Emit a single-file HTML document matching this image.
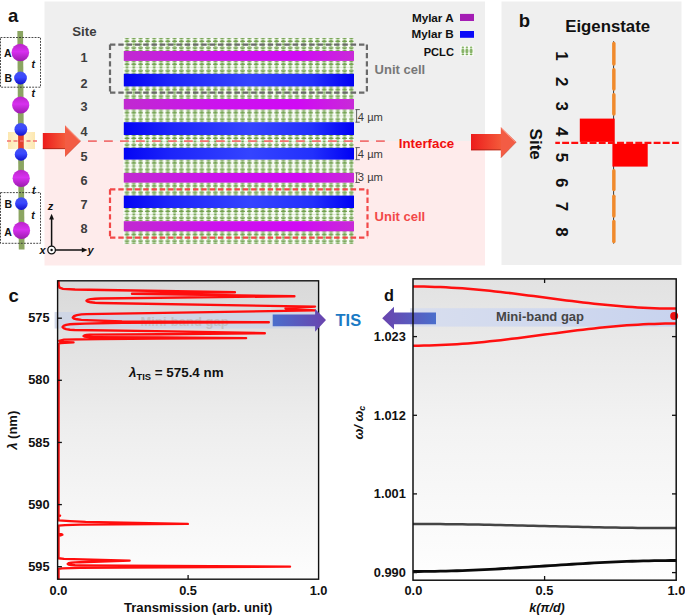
<!DOCTYPE html>
<html><head><meta charset="utf-8">
<style>
html,body{margin:0;padding:0;background:#fff;width:685px;height:615px;overflow:hidden}
svg{display:block;font-family:"Liberation Sans",sans-serif}
text{font-family:"Liberation Sans",sans-serif}
.b{font-weight:bold}
</style></head><body>
<svg width="685" height="615" viewBox="0 0 685 615">
<defs>
<linearGradient id="gA2" x1="0" y1="0" x2="0" y2="1">
<stop offset="0" stop-color="#b926c8"/><stop offset="0.45" stop-color="#d830f0"/><stop offset="1" stop-color="#9a1cac"/>
</linearGradient>
<linearGradient id="gB2" x1="0" y1="0" x2="0" y2="1">
<stop offset="0" stop-color="#4452ee"/><stop offset="0.45" stop-color="#3a48ff"/><stop offset="1" stop-color="#1212cc"/>
</linearGradient>
<linearGradient id="gArrow" x1="0" y1="0" x2="1" y2="0">
<stop offset="0" stop-color="#ec1c1c"/><stop offset="1" stop-color="#f45a3a"/>
</linearGradient>
<linearGradient id="gMag" x1="0" y1="0" x2="1" y2="0">
<stop offset="0" stop-color="#c02ad0"/><stop offset="0.4" stop-color="#cc12ee"/><stop offset="0.75" stop-color="#d00af4"/><stop offset="1" stop-color="#c82ad8"/>
</linearGradient>
<linearGradient id="gBlu" x1="0" y1="0" x2="1" y2="0">
<stop offset="0" stop-color="#0404f4"/><stop offset="0.2" stop-color="#1c24fa"/><stop offset="0.55" stop-color="#3444ff"/><stop offset="0.82" stop-color="#2230fc"/><stop offset="1" stop-color="#0000f4"/>
</linearGradient>
<linearGradient id="gYel" x1="0" y1="0" x2="1" y2="0">
<stop offset="0" stop-color="#fce7b0"/><stop offset="0.5" stop-color="#fff6d8"/><stop offset="1" stop-color="#fce7b0"/>
</linearGradient>
<pattern id="pclc" x="123.6" y="0" width="6.8" height="13" patternUnits="userSpaceOnUse">
<rect width="6.8" height="13" fill="#fbfdf9"/>
<ellipse cx="3.4" cy="0.8" rx="2.3" ry="0.7" fill="#70a04c"/>
<path d="M0.8,3.9 A2.6,1.9 0 0 1 6.0,3.9 Z" fill="#70a04c"/>
<ellipse cx="3.4" cy="4.9" rx="1.8" ry="0.7" fill="#86b268"/>
<rect x="0" y="6.3" width="6.8" height="0.4" fill="#b4d09e"/>
<ellipse cx="3.4" cy="6.5" rx="1.3" ry="0.8" fill="#70a04c"/>
<ellipse cx="3.4" cy="8.1" rx="1.8" ry="0.7" fill="#86b268"/>
<path d="M0.8,9.2 A2.6,1.9 0 0 0 6.0,9.2 Z" fill="#70a04c"/>
<ellipse cx="3.4" cy="12.2" rx="2.3" ry="0.7" fill="#70a04c"/>
</pattern>
<linearGradient id="gC" x1="0" y1="0" x2="0" y2="1">
<stop offset="0" stop-color="#d9d9d9"/><stop offset="0.5" stop-color="#eeeeee"/><stop offset="1" stop-color="#fdfdfd"/>
</linearGradient>
<linearGradient id="gD" x1="0" y1="0" x2="0" y2="1">
<stop offset="0" stop-color="#e2e2e2"/><stop offset="0.5" stop-color="#f3f3f3"/><stop offset="1" stop-color="#fefefe"/>
</linearGradient>
<linearGradient id="gTisR" x1="0" y1="0" x2="1" y2="0">
<stop offset="0" stop-color="#4a6ecc"/><stop offset="1" stop-color="#6a44ae"/>
</linearGradient>
<linearGradient id="gTisL" x1="0" y1="0" x2="1" y2="0">
<stop offset="0" stop-color="#6a44ae"/><stop offset="1" stop-color="#4a6ecc"/>
</linearGradient>
<linearGradient id="gBand" x1="0" y1="0" x2="1" y2="0">
<stop offset="0" stop-color="#d8deee"/><stop offset="1" stop-color="#c8d3ee"/>
</linearGradient>
</defs>

<!-- PANEL BACKGROUNDS -->
<rect x="44.5" y="1.5" width="440.5" height="139.5" fill="#efefef"/>
<rect x="44.5" y="141" width="440.5" height="124.5" fill="#feebeb"/>
<rect x="501.5" y="1.5" width="180" height="263.5" fill="#efefef"/>

<!-- PANEL A: chain -->
<g id="chain">
<path d="M17.35,31 L23.05,31 L24.5,249.6 L18.8,249.6 Z" fill="#8ba562"/>
<rect x="8" y="132" width="27" height="17" fill="url(#gYel)"/>
<path d="M18.1,132 L23.7,132 L23.8,149 L18.2,149 Z" fill="#e2412e"/>
<line x1="7" y1="141" x2="37" y2="141" stroke="#f27070" stroke-width="1.6" stroke-dasharray="4,2.5"/>
<rect x="0.5" y="37.5" width="40" height="49.7" fill="none" stroke="#333" stroke-width="0.9" stroke-dasharray="1.9,1.2"/>
<rect x="0.5" y="192.6" width="40" height="50.7" fill="none" stroke="#333" stroke-width="0.9" stroke-dasharray="1.9,1.2"/>
<circle cx="20.34" cy="52.5" r="8.8" fill="url(#gA2)"/>
<circle cx="20.51" cy="78" r="6.4" fill="url(#gB2)"/>
<circle cx="20.69" cy="105" r="8.6" fill="url(#gA2)"/>
<circle cx="20.85" cy="129.4" r="6.4" fill="url(#gB2)"/>
<circle cx="21.02" cy="154.4" r="6.3" fill="url(#gB2)"/>
<circle cx="21.18" cy="178.3" r="8.6" fill="url(#gA2)"/>
<circle cx="21.35" cy="203.6" r="6.3" fill="url(#gB2)"/>
<circle cx="21.52" cy="230.4" r="8.6" fill="url(#gA2)"/>
<g class="b" font-size="10.5" fill="#111">
<text x="3.9" y="56.8">A</text>
<text x="4.5" y="81.5">B</text>
<text x="4.4" y="208">B</text>
<text x="4.3" y="235.6">A</text>
</g>
<g font-size="10.5" font-style="italic" font-weight="bold" fill="#111">
<text x="31.6" y="67.7">t</text>
<text x="31.6" y="97.3">t</text>
<text x="31.9" y="194.3">t</text>
<text x="31.2" y="219.4">t</text>
</g>
<line x1="51.6" y1="246" x2="51.6" y2="218" stroke="#111" stroke-width="1.5"/>
<path d="M51.6,213.8 L49.2,219.5 L54,219.5 Z" fill="#111"/>
<line x1="55.6" y1="250" x2="83" y2="250" stroke="#111" stroke-width="1.5"/>
<path d="M87.6,250 L81.8,247.6 L81.8,252.4 Z" fill="#111"/>
<circle cx="51.6" cy="250" r="3.8" fill="#fff" stroke="#111" stroke-width="1.3"/>
<circle cx="51.6" cy="250" r="1.2" fill="#111"/>
<g font-size="11" font-style="italic" font-weight="bold" fill="#111">
<text x="47.8" y="210.3">z</text>
<text x="39.4" y="253.8">x</text>
<text x="87.6" y="253.8">y</text>
</g>
</g>

<!-- PANEL A: layers -->
<g id="layers">
<g transform="translate(0,38)"><rect x="123.2" y="0" width="230.5" height="13.0" fill="url(#pclc)"/></g>
<g transform="translate(0,60.9)"><rect x="123.2" y="0" width="230.5" height="12.9" fill="url(#pclc)"/></g>
<g transform="translate(0,86.4)"><rect x="123.2" y="0" width="230.5" height="12.6" fill="url(#pclc)"/></g>
<g transform="translate(0,109.4)"><rect x="123.2" y="0" width="230.5" height="12.8" fill="url(#pclc)"/></g>
<g transform="translate(0,135)"><rect x="123.2" y="0" width="230.5" height="12.8" fill="url(#pclc)"/></g>
<g transform="translate(0,159.6)"><rect x="123.2" y="0" width="230.5" height="13.3" fill="url(#pclc)"/></g>
<g transform="translate(0,182.6)"><rect x="123.2" y="0" width="230.5" height="13.0" fill="url(#pclc)"/></g>
<g transform="translate(0,208)"><rect x="123.2" y="0" width="230.5" height="13.2" fill="url(#pclc)"/></g>
<g transform="translate(0,231.3)"><rect x="123.2" y="0" width="230.5" height="12.7" fill="url(#pclc)"/></g>
<rect x="123.8" y="51" width="230.2" height="9.9" fill="url(#gMag)"/>
<rect x="123.8" y="73.8" width="230.2" height="12.6" fill="url(#gBlu)"/>
<rect x="123.8" y="99" width="230.2" height="10.4" fill="url(#gMag)"/>
<rect x="123.8" y="122.2" width="230.2" height="12.8" fill="url(#gBlu)"/>
<rect x="123.8" y="147.8" width="230.2" height="11.8" fill="url(#gBlu)"/>
<rect x="123.8" y="172.9" width="230.2" height="9.7" fill="url(#gMag)"/>
<rect x="123.8" y="195.6" width="230.2" height="12.4" fill="url(#gBlu)"/>
<rect x="123.8" y="221.2" width="230.2" height="10.1" fill="url(#gMag)"/>
<path d="M110,44.6 H366.9 M110,44.6 V92.6 M110,92.6 H366.9 M366.9,44.6 V92.6" fill="none" stroke="#6a6a6a" stroke-width="2.2" stroke-dasharray="5.4,2.9"/>
<path d="M110,189.3 H367.5 M110,189.3 V237.6 M110,237.6 H367.5 M367.5,189.3 V237.6" fill="none" stroke="#f24848" stroke-width="2.2" stroke-dasharray="5.4,2.9"/>
<line x1="88" y1="141.2" x2="386" y2="141.2" stroke="#f27272" stroke-width="1.8" stroke-dasharray="8.8,7.2"/>
<g class="b" font-size="12.7" fill="#3d3d3d" text-anchor="middle">
<text x="84.4" y="35.8" font-size="13.2">Site</text>
<text x="84" y="62.4">1</text>
<text x="84" y="88">2</text>
<text x="84" y="111.1">3</text>
<text x="84" y="136.3">4</text>
<text x="84" y="161.4">5</text>
<text x="84" y="184.7">6</text>
<text x="84" y="208.7">7</text>
<text x="84" y="233">8</text>
</g>
<g stroke="#3a3a3a" stroke-width="0.8" fill="none">
<path d="M355.4,109.6 H359.8 M356.6,109.6 V122.2 M355.4,122.2 H359.8"/>
<path d="M355.4,147.6 H359.8 M356.6,147.6 V159.7 M355.4,159.7 H359.8"/>
<path d="M355.4,172.8 H359.8 M356.6,172.8 V182.5 M355.4,182.5 H359.8"/>
</g>
<g font-size="11.2" fill="#3a3a3a">
<text x="357.8" y="120.9">4 µm</text>
<text x="357.8" y="158.3">4 µm</text>
<text x="357.8" y="181.3">3 µm</text>
</g>
<text x="374.6" y="74.1" class="b" font-size="13" fill="#777">Unit cell</text>
<text x="374.6" y="221.4" class="b" font-size="13" fill="#f24848">Unit cell</text>
<text x="398.8" y="147.9" class="b" font-size="13.3" fill="#f01010">Interface</text>
<g class="b" font-size="11.7" fill="#111" text-anchor="end">
<text x="453.7" y="21.8">Mylar A</text>
<text x="453.7" y="37.8">Mylar B</text>
<text x="453.9" y="55.6" font-size="11.1">PCLC</text>
</g>
<rect x="460" y="13.9" width="14" height="7.1" fill="#a41db4"/>
<rect x="460" y="31" width="14" height="6.8" fill="#0a0af8"/>
<g fill="#7eae5c">
<rect x="460.2" y="45.9" width="13.3" height="10.1" fill="#fbfdf9"/>
<ellipse cx="462.9" cy="47.3" rx="1.3" ry="0.75"/>
<ellipse cx="462.9" cy="49.3" rx="1.5" ry="0.8"/>
<ellipse cx="462.9" cy="51.0" rx="1.8" ry="0.9"/>
<ellipse cx="462.9" cy="52.7" rx="1.5" ry="0.8"/>
<ellipse cx="462.9" cy="54.6" rx="1.4" ry="0.75"/>
<ellipse cx="466.9" cy="47.3" rx="1.3" ry="0.75"/>
<ellipse cx="466.9" cy="49.3" rx="1.5" ry="0.8"/>
<ellipse cx="466.9" cy="51.0" rx="1.8" ry="0.9"/>
<ellipse cx="466.9" cy="52.7" rx="1.5" ry="0.8"/>
<ellipse cx="466.9" cy="54.6" rx="1.4" ry="0.75"/>
<ellipse cx="471.1" cy="47.3" rx="1.3" ry="0.75"/>
<ellipse cx="471.1" cy="49.3" rx="1.5" ry="0.8"/>
<ellipse cx="471.1" cy="51.0" rx="1.8" ry="0.9"/>
<ellipse cx="471.1" cy="52.7" rx="1.5" ry="0.8"/>
<ellipse cx="471.1" cy="54.6" rx="1.4" ry="0.75"/>
</g>
</g>

<!-- ARROWS a -> b -->
<g id="arrows">
<rect x="42.8" y="133" width="22.500000000000004" height="16.099999999999994" fill="url(#gArrow)"/>
<path d="M65,125.3 L80.8,141 L65,156.7 Z" fill="#f35c44"/>
<path d="M65.6,126.89999999999999 L79.6,140.8" stroke="#fbb0a0" stroke-width="0.8" opacity="0.8"/>
<path d="M42.8,148.6 H65" stroke="#8e1c12" stroke-width="1" opacity="0.6"/>
<path d="M65,156.7 L80.8,141" stroke="#a02a1a" stroke-width="0.8" opacity="0.4"/>
<rect x="471" y="134" width="30.100000000000012" height="16.30000000000001" fill="url(#gArrow)"/>
<path d="M500.8,127 L516.3,142.1 L500.8,157.9 Z" fill="#f35c44"/>
<path d="M501.40000000000003,128.6 L515.0999999999999,141.9" stroke="#fbb0a0" stroke-width="0.8" opacity="0.8"/>
<path d="M471,149.8 H500.8" stroke="#8e1c12" stroke-width="1" opacity="0.6"/>
<path d="M500.8,157.9 L516.3,142.1" stroke="#a02a1a" stroke-width="0.8" opacity="0.4"/>
</g>

<!-- PANEL B -->
<g id="panelb">
<text x="518.8" y="27.4" class="b" font-size="18.5" fill="#111">b</text>
<text x="565.2" y="31.6" class="b" font-size="17" fill="#111" textLength="84.9" lengthAdjust="spacingAndGlyphs">Eigenstate</text>
<g class="b" font-size="17" fill="#111" text-anchor="middle">
<text transform="translate(556.2,56) rotate(90)">1</text>
<text transform="translate(556.2,81.7) rotate(90)">2</text>
<text transform="translate(556.2,106.3) rotate(90)">3</text>
<text transform="translate(556.2,131.7) rotate(90)">4</text>
<text transform="translate(556.2,157.6) rotate(90)">5</text>
<text transform="translate(556.2,182.7) rotate(90)">6</text>
<text transform="translate(556.2,206.6) rotate(90)">7</text>
<text transform="translate(556.2,232) rotate(90)">8</text>
<text transform="translate(529.8,144.2) rotate(90)">Site</text>
</g>
<line x1="613.6" y1="41.2" x2="613.6" y2="243.6" stroke="#222" stroke-width="0.9"/>
<g fill="#f08a2c">
<rect x="612.1" y="41.8" width="3.5" height="23.9" rx="1.7"/>
<rect x="612.1" y="68" width="3.5" height="22.8" rx="1.7"/>
<rect x="612.1" y="93" width="3.5" height="22.8" rx="1.7"/>
<rect x="612.1" y="169" width="3.5" height="22.3" rx="1.7"/>
<rect x="612.1" y="194.5" width="3.5" height="23.3" rx="1.7"/>
<rect x="612.1" y="219.7" width="3.5" height="23.5" rx="1.7"/>
</g>
<rect x="579.8" y="118.6" width="34.9" height="23.3" fill="#ff0000"/>
<rect x="612.4" y="143.8" width="35.3" height="22.8" fill="#ff0000"/>
<line x1="555.3" y1="142.9" x2="679" y2="142.9" stroke="#ff0c0c" stroke-width="2.2" stroke-dasharray="6.9,2.25" stroke-dashoffset="2.3"/>
</g>

<!-- PANEL C -->
<g id="panelc">
<rect x="57.6" y="280.8" width="261" height="298.4" fill="url(#gC)"/>
<rect x="54.6" y="312" width="264.4" height="16.5" fill="#cdd5e6" opacity="0.85"/>
<text x="140.5" y="325.5" class="b" font-size="13" fill="#c2c2c4">Mini-band gap</text>
<path d="M58.5,281.5 L58.7,285.0 L59.5,287.6 L63.0,288.9 L75.0,289.5 L234.9,292.2 L132.0,293.7 L294.4,296.2 L100.5,298.5 L95.1,298.7 L90.6,299.1 L87.6,299.9 L86.5,300.7 L87.6,301.6 L90.6,302.3 L95.1,302.8 L100.5,303.0 L315.0,306.6 L285.5,308.5 L315.0,310.4 L86.8,314.1 L81.4,314.4 L76.9,315.1 L73.9,316.2 L72.8,317.5 L73.9,318.5 L76.9,319.3 L81.4,319.9 L86.8,320.1 L122.0,321.5 L268.8,322.2 L122.0,322.8 L85.0,323.6 L74.6,324.0 L70.0,324.2 L66.1,324.9 L63.5,325.9 L62.6,327.0 L63.5,328.1 L66.1,329.1 L70.0,329.8 L74.6,330.0 L156.0,331.1 L264.8,333.2 L160.0,334.3 L93.6,334.6 L89.8,334.7 L86.5,335.0 L84.4,335.5 L83.6,336.0 L84.4,336.5 L86.5,336.8 L89.8,337.1 L93.6,337.2 L160.0,337.5 L246.1,338.1 L160.0,338.6 L100.0,339.0 L64.0,339.6 L59.2,340.8 L60.5,341.9 L73.5,342.4 L60.5,343.0 L58.6,344.0 L58.5,514.8 L60.0,515.6 L58.5,516.4 L58.5,520.4 L70.0,521.1 L85.6,521.9 L187.8,523.9 L80.5,524.6 L65.0,525.1 L58.5,525.6 L58.5,533.9 L61.0,534.2 L62.3,534.7 L61.0,535.2 L58.5,535.5 L58.5,558.2 L64.0,558.9 L129.6,560.6 L79.7,562.3 L75.1,562.4 L71.2,562.8 L68.6,563.3 L67.7,563.9 L68.6,564.5 L71.2,565.0 L75.1,565.3 L79.7,565.4 L290.0,566.6 L80.0,567.9 L62.0,568.4 L58.5,568.9 L58.5,578.6" fill="none" stroke="#ff0d0d" stroke-width="2.4" stroke-linejoin="round" stroke-linecap="round"/>
<rect x="57.6" y="280.8" width="261" height="298.4" fill="none" stroke="#111" stroke-width="1.4"/>
<g stroke="#111" stroke-width="1.3">
<line x1="57.6" y1="318.2" x2="61.9" y2="318.2"/>
<line x1="57.6" y1="380.3" x2="61.9" y2="380.3"/>
<line x1="57.6" y1="442.45" x2="61.9" y2="442.45"/>
<line x1="57.6" y1="504.6" x2="61.9" y2="504.6"/>
<line x1="57.6" y1="566.7" x2="61.9" y2="566.7"/>
<line x1="188.1" y1="579.2" x2="188.1" y2="575"/>
</g>
<g class="b" font-size="12.8" fill="#111" text-anchor="end">
<text x="49.6" y="322.2">575</text>
<text x="49.6" y="384.4">580</text>
<text x="49.6" y="446.5">585</text>
<text x="49.6" y="508.7">590</text>
<text x="49.6" y="570.9">595</text>
</g>
<g class="b" font-size="12.8" fill="#111" text-anchor="middle">
<text x="58.5" y="594.9">0.0</text>
<text x="188.1" y="594.9">0.5</text>
<text x="318.6" y="594.9">1.0</text>
</g>
<text x="198.2" y="612.3" class="b" font-size="13.1" fill="#111" text-anchor="middle">Transmission (arb. unit)</text>
<text transform="translate(17.2,430.3) rotate(-90)" class="b" font-size="13" fill="#111" text-anchor="middle"><tspan font-style="italic">λ</tspan> (nm)</text>
<text x="8.5" y="301.6" class="b" font-size="18.5" fill="#111">c</text>
<text x="129" y="377" class="b" font-size="13.4" fill="#111"><tspan font-style="italic">λ</tspan><tspan font-size="9.4" dy="3">TIS</tspan><tspan dy="-3"> = 575.4 nm</tspan></text>
<path d="M272.7,314.5 H315.1 V309 L326,320.1 L315.1,331.7 V326.3 H272.7 Z" fill="url(#gTisR)"/>
</g>

<text x="335.6" y="325.7" class="b" font-size="16.4" fill="#1a7ac4">TIS</text>

<!-- PANEL D -->
<g id="paneld">
<rect x="413" y="278.9" width="263.2" height="301.3" fill="url(#gD)"/>
<rect x="410.2" y="308.2" width="265.5" height="18.4" fill="url(#gBand)"/>
<path d="M436,312.5 H394 V306.8 L382.2,318.2 L394,329.6 V324.2 H436 Z" fill="url(#gTisL)"/>
<text x="495.9" y="320.8" class="b" font-size="13" fill="#454545">Mini-band gap</text>
<path d="M413.0,286.50 L418.5,286.52 L424.0,286.59 L429.4,286.71 L434.9,286.88 L440.4,287.09 L445.9,287.34 L451.4,287.64 L456.9,287.98 L462.4,288.36 L467.8,288.78 L473.3,289.24 L478.8,289.74 L484.3,290.26 L489.8,290.82 L495.2,291.41 L500.7,292.02 L506.2,292.66 L511.7,293.32 L517.2,294.00 L522.7,294.69 L528.1,295.39 L533.6,296.11 L539.1,296.83 L544.6,297.55 L550.1,298.27 L555.6,298.99 L561.0,299.71 L566.5,300.41 L572.0,301.10 L577.5,301.78 L583.0,302.44 L588.5,303.07 L594.0,303.69 L599.4,304.28 L604.9,304.84 L610.4,305.36 L615.9,305.86 L621.4,306.32 L626.9,306.74 L632.3,307.12 L637.8,307.46 L643.3,307.76 L648.8,308.01 L654.3,308.22 L659.8,308.39 L665.2,308.51 L670.7,308.58 L676.2,308.60" fill="none" stroke="#ff1010" stroke-width="2.5"/>
<path d="M413.0,345.70 L418.5,345.68 L424.0,345.61 L429.4,345.49 L434.9,345.32 L440.4,345.11 L445.9,344.86 L451.4,344.56 L456.9,344.21 L462.4,343.83 L467.8,343.41 L473.3,342.95 L478.8,342.45 L484.3,341.92 L489.8,341.36 L495.2,340.77 L500.7,340.15 L506.2,339.51 L511.7,338.85 L517.2,338.17 L522.7,337.47 L528.1,336.77 L533.6,336.05 L539.1,335.33 L544.6,334.60 L550.1,333.87 L555.6,333.15 L561.0,332.43 L566.5,331.73 L572.0,331.03 L577.5,330.35 L583.0,329.69 L588.5,329.05 L594.0,328.43 L599.4,327.84 L604.9,327.28 L610.4,326.75 L615.9,326.25 L621.4,325.79 L626.9,325.37 L632.3,324.99 L637.8,324.64 L643.3,324.34 L648.8,324.09 L654.3,323.88 L659.8,323.71 L665.2,323.59 L670.7,323.52 L676.2,323.50" fill="none" stroke="#ff1010" stroke-width="2.5"/>
<path d="M413.0,524.00 L418.5,524.00 L424.0,524.02 L429.4,524.04 L434.9,524.07 L440.4,524.11 L445.9,524.16 L451.4,524.21 L456.9,524.27 L462.4,524.35 L467.8,524.42 L473.3,524.51 L478.8,524.60 L484.3,524.70 L489.8,524.80 L495.2,524.91 L500.7,525.02 L506.2,525.14 L511.7,525.27 L517.2,525.39 L522.7,525.52 L528.1,525.65 L533.6,525.78 L539.1,525.92 L544.6,526.05 L550.1,526.18 L555.6,526.32 L561.0,526.45 L566.5,526.58 L572.0,526.71 L577.5,526.83 L583.0,526.96 L588.5,527.07 L594.0,527.19 L599.4,527.30 L604.9,527.40 L610.4,527.50 L615.9,527.59 L621.4,527.68 L626.9,527.75 L632.3,527.83 L637.8,527.89 L643.3,527.94 L648.8,527.99 L654.3,528.03 L659.8,528.06 L665.2,528.08 L670.7,528.10 L676.2,528.10" fill="none" stroke="#444" stroke-width="2.5"/>
<path d="M413.0,571.50 L418.5,571.49 L424.0,571.45 L429.4,571.39 L434.9,571.31 L440.4,571.21 L445.9,571.08 L451.4,570.93 L456.9,570.76 L462.4,570.57 L467.8,570.36 L473.3,570.14 L478.8,569.89 L484.3,569.63 L489.8,569.35 L495.2,569.06 L500.7,568.75 L506.2,568.43 L511.7,568.10 L517.2,567.77 L522.7,567.42 L528.1,567.07 L533.6,566.72 L539.1,566.36 L544.6,566.00 L550.1,565.64 L555.6,565.28 L561.0,564.93 L566.5,564.58 L572.0,564.23 L577.5,563.90 L583.0,563.57 L588.5,563.25 L594.0,562.94 L599.4,562.65 L604.9,562.37 L610.4,562.11 L615.9,561.86 L621.4,561.64 L626.9,561.43 L632.3,561.24 L637.8,561.07 L643.3,560.92 L648.8,560.79 L654.3,560.69 L659.8,560.61 L665.2,560.55 L670.7,560.51 L676.2,560.50" fill="none" stroke="#0a0a0a" stroke-width="2.8"/>
<circle cx="674.2" cy="316" r="4" fill="#ee1010"/>
<rect x="413" y="278.9" width="263.2" height="301.3" fill="none" stroke="#111" stroke-width="1.5"/>
<g stroke="#111" stroke-width="1.3">
<line x1="413" y1="336.6" x2="417" y2="336.6"/>
<line x1="413" y1="415.3" x2="417" y2="415.3"/>
<line x1="413" y1="493.9" x2="417" y2="493.9"/>
<line x1="413" y1="572.6" x2="417" y2="572.6"/>
<line x1="676.2" y1="336.6" x2="672" y2="336.6"/>
<line x1="676.2" y1="415.3" x2="672" y2="415.3"/>
<line x1="676.2" y1="493.9" x2="672" y2="493.9"/>
<line x1="676.2" y1="572.6" x2="672" y2="572.6"/>
<line x1="544.6" y1="278.9" x2="544.6" y2="283"/>
<line x1="544.6" y1="580.2" x2="544.6" y2="576"/>
</g>
<g class="b" font-size="12.8" fill="#111" text-anchor="end">
<text x="405.8" y="341">1.023</text>
<text x="405.8" y="419.5">1.012</text>
<text x="405.8" y="498.2">1.001</text>
<text x="405.8" y="576.7">0.990</text>
</g>
<g class="b" font-size="12.8" fill="#111" text-anchor="middle">
<text x="413.4" y="594.7">0.0</text>
<text x="544.4" y="594.7">0.5</text>
<text x="676.4" y="594.7">1.0</text>
</g>
<text x="547" y="612.3" class="b" font-size="12.6" font-style="italic" fill="#111" text-anchor="middle">k(π/d)</text>
<text transform="translate(363.3,422.6) rotate(-90)" class="b" font-size="13" fill="#111" text-anchor="middle" font-style="italic">ω/ ω<tspan font-size="9" dy="2">c</tspan></text>
<text x="384" y="301.4" class="b" font-size="16.3" fill="#111">d</text>
</g>

<text x="8" y="22.2" class="b" font-size="18.5" fill="#111">a</text>
</svg>
</body></html>
